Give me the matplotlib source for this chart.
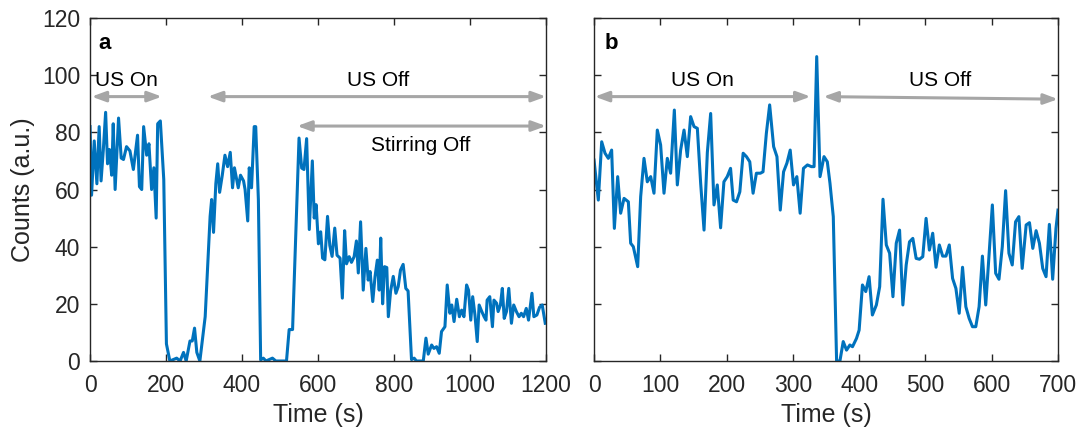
import matplotlib

matplotlib.use("Agg")
import matplotlib.pyplot as plt

plt.rcParams["font.family"] = ["Liberation Sans", "DejaVu Sans"]

# panel a: ultrasound on/off, stirring off
time_a = [
    0, 4, 11, 18, 24, 29, 35, 41, 46, 51, 57, 61, 66, 75, 82, 88, 96, 105, 114, 125,
    130, 136, 141, 149, 155, 162, 168, 174, 178, 185, 194, 201, 210, 228, 237, 246, 253, 263, 269, 275,
    281, 289, 303, 316, 320, 325, 331, 336, 341, 348, 355, 362, 369, 375, 380, 386, 390, 396, 404, 408,
    415, 419, 425, 432, 436, 443, 449, 456, 463, 480, 489, 517, 524, 533, 542, 550, 557, 563, 570, 577,
    585, 590, 595, 601, 607, 612, 618, 625, 631, 637, 644, 650, 658, 664, 670, 675, 682, 688, 695, 701,
    706, 712, 719, 726, 732, 737, 744, 750, 756, 761, 765, 770, 775, 781, 785, 791, 798, 805, 811, 817,
    824, 831, 837, 846, 853, 859, 877, 884, 890, 899, 905, 912, 919, 925, 934, 940, 947, 952, 958, 965,
    972, 978, 984, 991, 996, 1002, 1007, 1013, 1019, 1024, 1031, 1037, 1042, 1045, 1052, 1059, 1063, 1070, 1074, 1080,
    1085, 1090, 1096, 1102, 1109, 1115, 1122, 1129, 1135, 1141, 1148, 1154, 1163, 1168, 1176, 1183, 1190, 1198,
]
counts_a = [
    82, 58, 77, 62, 82, 63, 74, 87, 69, 74, 65, 83, 60, 85, 71, 70.5, 75, 73.5, 67, 79,
    61, 60, 82, 72, 76, 60, 67.6, 50, 83, 84, 63.5, 6, 0, 1, 0, 3, 0, 7, 7, 11.5,
    3, 0, 15.5, 50.6, 56.5, 45, 62, 69, 59, 65, 72, 68, 73, 60.6, 67.6, 63.5, 60.6, 65, 63, 60,
    49, 67.6, 60.6, 82, 82, 56.5, 0.4, 1, 0, 1, 0, 0, 11, 11, 47, 78, 67.5, 67, 77.8, 46,
    70, 50, 54.7, 41, 45.2, 36, 35.4, 50.6, 40.4, 36.6, 46.5, 37, 36, 22, 45.6, 34, 36.5, 34.5, 36.5, 42,
    30.8, 48.7, 24.8, 39.4, 28.3, 31.3, 20.8, 29.5, 35.3, 24.8, 43, 20, 33, 32.7, 15.5, 24.5, 29.6, 23.7, 26, 31.8,
    33.8, 25.4, 24.5, 0.5, 1, 0, 0, 8, 2.4, 5.6, 4.4, 5, 2.7, 10.3, 12, 26.6, 16.7, 19.6, 13.8, 21.6,
    15.5, 17.8, 15.5, 26.6, 24.8, 14.3, 22.5, 16.1, 6.8, 19.6, 17.3, 15.5, 14.3, 21.3, 22.5, 12, 21.3, 20.2, 17.3, 19.6,
    25.4, 14.9, 17.3, 25.4, 13.2, 19.6, 17.3, 15.5, 16.7, 15.5, 18.4, 14.3, 23.7, 15.5, 16.1, 18.8, 19.6, 13.2,
]

# panel b: ultrasound on then off
time_b = [
    0, 6.5, 11.6, 16.6, 21.6, 26.6, 30.7, 35.7, 40.2, 45.3, 51.8, 55.3, 59.3, 65.9, 70.4, 75.4, 80.4, 85.5, 90.5, 95.5,
    100.5, 105.6, 110.6, 115.6, 121.2, 125.7, 130.7, 135.8, 140.8, 145.8, 150.9, 155.9, 160.9, 166, 171, 176, 181, 186, 191, 196,
    201, 206, 210, 215, 220, 225, 230, 235, 240, 245, 251, 255, 260, 265, 271, 276, 281, 286, 291, 296,
    301, 306, 311, 316, 322, 328, 332, 336, 341, 347, 352, 356, 361, 366, 371, 376, 381, 386, 390, 396,
    400, 405, 410, 415, 420, 426, 431, 436, 441, 446, 451, 456, 461, 466, 471, 476, 481, 486, 491, 496,
    501, 506, 511, 516, 521, 526, 531, 536, 541, 546, 551, 556, 561, 566, 571, 576, 581, 586, 591, 596,
    601, 606, 611, 616, 621, 626, 631, 636, 641, 646, 652, 657, 662, 667, 672, 677, 682, 687, 692, 697, 700,
]
counts_b = [
    70.3, 56.3, 76.7, 72.7, 70.9, 73.8, 46.4, 64.5, 51.7, 56.9, 55.7, 41.2, 40, 33, 57.5, 70.9, 62.7, 64.5, 58.7, 80.8,
    75.6, 58.7, 70.9, 65.7, 87.8, 61.6, 73.8, 80.8, 71.5, 85.5, 82, 81.4, 62.2, 45.8, 73, 86.6, 54.6, 61.6, 46.6, 62.7,
    64.5, 67.4, 56.3, 55.7, 59.2, 72.7, 71.5, 69.7, 58.7, 65.7, 65.7, 66.2, 79.6, 89.6, 75, 71.5, 52.8, 66.2, 69.2, 73.8,
    61.6, 64.5, 51.7, 67.4, 68.6, 68, 68, 106.5, 64.5, 71.5, 69.7, 62.2, 50.5, 0, 0, 6.8, 3.8, 5.6, 5, 7.9,
    10.8, 26.6, 24.3, 29.5, 16.1, 19.6, 26, 56.6, 40.6, 37.7, 22.5, 41.2, 45.8, 19.6, 33.6, 41.7, 42.9, 35.9, 35.6, 36.5,
    49.9, 38.8, 44.7, 32.8, 40.6, 36.7, 36.7, 40.6, 28.9, 25.4, 16.7, 32.8, 19, 14.9, 12, 12, 19, 36.7, 19.6, 37.1,
    54.6, 30.7, 28.6, 40, 59.6, 37.7, 33.6, 48.7, 50.5, 32.4, 47.6, 48.4, 39.4, 45.6, 41.2, 32.4, 29.5, 47.8, 28.6, 46.4, 52.8,
]

LINE_COLOR = "#0072BD"
ARROW_COLOR = "#A6A6A6"
AXIS_COLOR = "#262626"


def double_arrow(ax, x0, x1, y0, y1=None):
    if y1 is None:
        y1 = y0
    ax.annotate(
        "",
        xy=(x1, y1),
        xytext=(x0, y0),
        arrowprops=dict(
            arrowstyle="<|-|>,head_length=0.6,head_width=0.22",
            color=ARROW_COLOR,
            lw=2.2,
            mutation_scale=14,
            shrinkA=0,
            shrinkB=0,
        ),
        annotation_clip=False,
    )


def style_axes(ax, xmax, xstep):
    ax.set_xlim(0, xmax)
    ax.set_ylim(0, 120)
    ax.set_xticks(range(0, xmax + 1, xstep))
    ax.set_yticks(range(0, 121, 20))
    ax.tick_params(direction="in", top=True, right=True, length=5, width=1,
                   labelsize=16.5, colors=AXIS_COLOR)
    ax.tick_params(axis="x", pad=9)
    ax.tick_params(axis="y", pad=7)
    for sp in ax.spines.values():
        sp.set_color(AXIS_COLOR)
        sp.set_linewidth(1)
    ax.set_xlabel("Time (s)", fontsize=18, color=AXIS_COLOR, labelpad=5)


fig = plt.figure(figsize=(10.81, 4.34), dpi=100)
ax_a = fig.add_axes([0.0833, 0.1682, 0.4218, 0.7903])
ax_b = fig.add_axes([0.5495, 0.1682, 0.4292, 0.7903])

ax_a.plot(time_a, counts_a, color=LINE_COLOR, lw=2.2)
style_axes(ax_a, 1200, 200)
ax_a.set_ylabel("Counts (a.u.)", fontsize=18, color=AXIS_COLOR, labelpad=5)
ax_a.text(0.018, 0.925, "a", transform=ax_a.transAxes, fontsize=16, fontweight="bold",
          va="center", ha="left")
double_arrow(ax_a, 4, 189, 92.5)
double_arrow(ax_a, 310, 1200, 92.5)
double_arrow(ax_a, 545, 1200, 82.2)
ax_a.text(97, 98, "US On", fontsize=15, ha="center", va="center", color="black")
ax_a.text(758, 98, "US Off", fontsize=15, ha="center", va="center", color="black")
ax_a.text(870, 75.5, "Stirring Off", fontsize=15, ha="center", va="center", color="black")

ax_b.plot(time_b, counts_b, color=LINE_COLOR, lw=2.2)
style_axes(ax_b, 700, 100)
ax_b.tick_params(labelleft=False)
ax_b.text(0.022, 0.925, "b", transform=ax_b.transAxes, fontsize=16, fontweight="bold",
          va="center", ha="left")
double_arrow(ax_b, 1, 326.8, 92.5)
double_arrow(ax_b, 346, 700, 92.5, 91.6)
ax_b.text(164, 98, "US On", fontsize=15, ha="center", va="center", color="black")
ax_b.text(522, 98, "US Off", fontsize=15, ha="center", va="center", color="black")

fig.savefig("out.png", dpi=100)
